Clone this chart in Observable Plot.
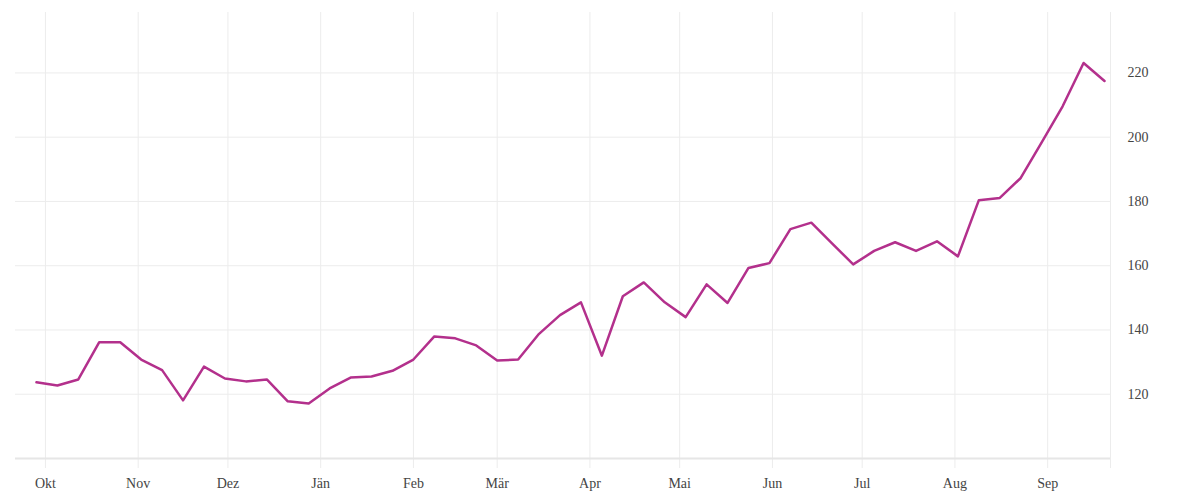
<!DOCTYPE html>
<html>
<head>
<meta charset="utf-8">
<script src="https://cdn.jsdelivr.net/npm/d3@7"></script>
<script src="https://cdn.jsdelivr.net/npm/@observablehq/plot@0.6"></script>
<style>
  html, body { margin: 0; padding: 0; background: #fff; }
  #chart svg { display: block; }
</style>
</head>
<body>
<div id="chart"></div>
<script>
// Weekly series, starting 2021-09-28
const startDate = "2021-09-28";
const values = [
  123.7, 122.7, 124.6, 136.2, 136.2, 130.8, 127.5, 118.1, 128.6, 124.9,
  124.0, 124.6, 117.8, 117.1, 121.8, 125.2, 125.5, 127.3, 130.8, 138.0,
  137.4, 135.2, 130.5, 130.8, 138.8, 144.6, 148.6, 132.0, 150.5, 154.8,
  148.6, 144.0, 154.2, 148.4, 159.3, 160.8, 171.4, 173.4, 166.9, 160.4,
  164.6, 167.3, 164.6, 167.6, 162.9, 180.4, 181.1, 187.3, 198.4, 209.6,
  223.1, 217.5
];
const monthTicks = ["2021-10-01","2021-11-01","2021-12-01","2022-01-01","2022-02-01","2022-03-01",
                    "2022-04-01","2022-05-01","2022-06-01","2022-07-01","2022-08-01","2022-09-01"];
const monthLabels = ["Okt","Nov","Dez","Jän","Feb","Mär","Apr","Mai","Jun","Jul","Aug","Sep"];
const yTicks = [120, 140, 160, 180, 200, 220];
const xDomain = ["2021-09-21", "2022-09-22"];
const yDomain = [100, 238.8];

const start = new Date(startDate);
const data = values.map((v, i) => ({date: d3.utcDay.offset(start, 7 * i), value: v}));
const months = monthTicks.map(d => new Date(d));
const labelOf = new Map(months.map((d, i) => [+d, monthLabels[i]]));

const chart = Plot.plot({
  width: 1200,
  height: 500,
  marginTop: 12,
  marginBottom: 42,
  marginLeft: 15,
  marginRight: 90,
  style: {fontFamily: "'Liberation Serif', serif", fontSize: "14px", color: "#333", background: "#fff"},
  x: {type: "utc", domain: xDomain.map(d => new Date(d))},
  y: {domain: yDomain},
  marks: [
    Plot.ruleY(yTicks, {stroke: "#ececec", strokeWidth: 1}),
    Plot.ruleX(months, {stroke: "#ececec", strokeWidth: 1, insetBottom: -10}),
    Plot.ruleX([new Date(xDomain[1])], {stroke: "#ececec", strokeWidth: 1, insetBottom: -10}),
    Plot.ruleY([100], {stroke: "#e6e6e6", strokeWidth: 2}),
    Plot.line(data, {x: "date", y: "value", stroke: "#b3308c", strokeWidth: 2.5}),
    Plot.axisX(months, {anchor: "bottom", tickSize: 0, tickPadding: 20, tickFormat: d => labelOf.get(+d), fill: "#444", fontSize: 14}),
    Plot.axisY(yTicks, {anchor: "right", tickSize: 0, tickPadding: 17, textAnchor: "start", fill: "#444", fontSize: 14, label: null})
  ]
});
document.getElementById("chart").appendChild(chart);
</script>
</body>
</html>
